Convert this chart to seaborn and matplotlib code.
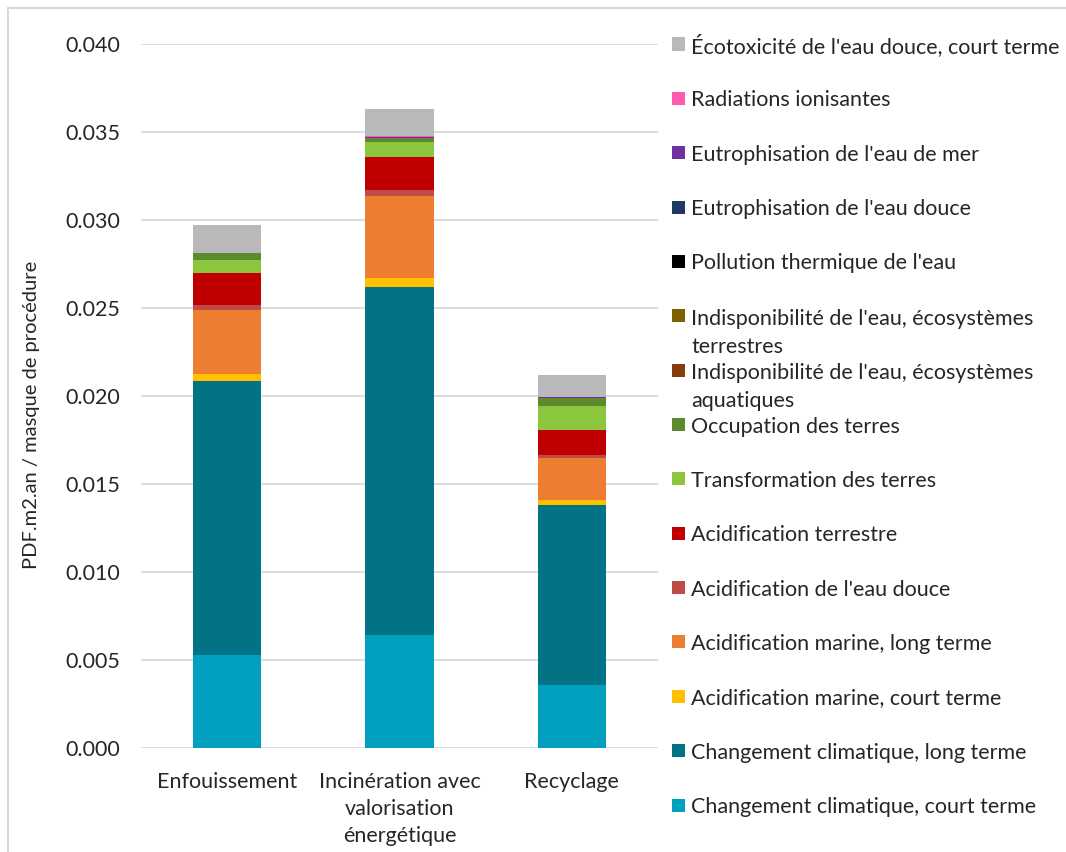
import matplotlib
matplotlib.use("Agg")
import matplotlib.pyplot as plt
import matplotlib.patches as mpatches
import numpy as np
import seaborn as sns

# ---------------- data ----------------
categories = ["Enfouissement", "Incinération avec\nvalorisation\nénergétique", "Recyclage"]

cc_court = [0.00528, 0.00644, 0.00356]
cc_long = [0.01553, 0.01974, 0.01021]
am_court = [0.00041, 0.00052, 0.00030]
am_long = [0.00363, 0.00466, 0.00241]
acid_douce = [0.00028, 0.00031, 0.00017]
acid_terr = [0.00186, 0.00189, 0.00140]
transfo = [0.00074, 0.00085, 0.00138]
occupation = [0.00036, 0.00023, 0.00042]
indispo_aq = [0.000005, 0.000005, 0.000005]
indispo_terr = [0.000005, 0.000005, 0.000005]
pollution = [0.0, 0.0, 0.0]
eutro_douce = [0.000005, 0.000005, 0.000005]
eutro_mer = [0.00002, 0.00006, 0.00005]
radiations = [0.000005, 0.000005, 0.000005]
ecotox = [0.00155, 0.00157, 0.00128]

series_labels = [
    "Changement climatique, court terme",
    "Changement climatique, long terme",
    "Acidification marine, court terme",
    "Acidification marine, long terme",
    "Acidification de l'eau douce",
    "Acidification terrestre",
    "Transformation des terres",
    "Occupation des terres",
    "Indisponibilité de l'eau, écosystèmes\naquatiques",
    "Indisponibilité de l'eau, écosystèmes\nterrestres",
    "Pollution thermique de l'eau",
    "Eutrophisation de l'eau douce",
    "Eutrophisation de l'eau de mer",
    "Radiations ionisantes",
    "Écotoxicité de l'eau douce, court terme",
]
series_values = [cc_court, cc_long, am_court, am_long, acid_douce, acid_terr,
                 transfo, occupation, indispo_aq, indispo_terr, pollution,
                 eutro_douce, eutro_mer, radiations, ecotox]
series_colors = ["#00A0BE", "#027385", "#FFC000", "#ED7D31", "#BE4B48", "#C00000",
                 "#8CC63F", "#5E8A2E", "#843C0C", "#7F6000", "#000000",
                 "#203864", "#7030A0", "#FF5BB0", "#B9B9B9"]

y_ticks = [0.000, 0.005, 0.010, 0.015, 0.020, 0.025, 0.030, 0.035, 0.040]
y_label = "PDF.m2.an / masque de procédure"

# ---------------- style ----------------
sns.set_theme(style="white")
plt.rcParams["font.family"] = ["Lato", "DejaVu Sans"]
text_color = "#262626"

W, H = 1066, 852
fig = plt.figure(figsize=(W / 100, H / 100), dpi=100)

# axes placement (pixels)
ax_l, ax_r, ax_t, ax_b = 141, 658, 43.5, 748
ax = fig.add_axes([ax_l / W, 1 - ax_b / H, (ax_r - ax_l) / W, (ax_b - ax_t) / H])

# stacked bars: draw cumulative totals from the top down
cum = np.cumsum(np.array(series_values), axis=0)
for i in range(len(series_values) - 1, -1, -1):
    sns.barplot(x=categories, y=cum[i], color=series_colors[i], width=0.395,
                saturation=1, ax=ax, linewidth=0, zorder=3)

ax.set_ylim(0, 0.040)
ax.set_xlim(-0.5, 2.5)
ax.set_yticks(y_ticks)
ax.set_yticklabels([f"{v:.3f}" for v in y_ticks])
ax.yaxis.grid(True, color="#D9D9D9", linewidth=1.3, zorder=0)
ax.xaxis.grid(False)
ax.set_axisbelow(True)
for s in ax.spines.values():
    s.set_visible(False)
ax.tick_params(axis="y", length=0, pad=15, labelsize=15.5, labelcolor=text_color)
ax.tick_params(axis="x", length=0, pad=17, labelsize=15.5, labelcolor=text_color)
for lab in ax.get_xticklabels():
    lab.set_linespacing(1.45)
    lab.set_verticalalignment("top")
ax.set_xlabel("")
ax.set_ylabel(y_label, fontsize=14.5, color=text_color)
ax.yaxis.set_label_coords((40 - ax_l) / (ax_r - ax_l), (ax_b - 415) / (ax_b - ax_t))

# manual legend (Excel style, reversed order, fixed pitch)
legend_order = list(range(len(series_labels) - 1, -1, -1))
y0, pitch, wrap_shift = 44, 54.36, 11
for k, idx in enumerate(legend_order):
    yc = y0 + pitch * k
    fig.patches.append(mpatches.Rectangle(((672) / W, 1 - (yc + 6.5) / H), 13 / W, 13 / H,
                                          transform=fig.transFigure, facecolor=series_colors[idx],
                                          edgecolor="none"))
    n_extra = series_labels[idx].count("\n")
    fig.text(691 / W, 1 - (yc + n_extra * wrap_shift) / H, series_labels[idx], fontsize=15.5,
             color=text_color, ha="left", va="center_baseline", linespacing=1.5)

# outer chart frame
fig.patches.append(mpatches.Rectangle((8 / W, -0.1), 1.2, 1.1 - 8 / H, transform=fig.transFigure,
                                      fill=False, edgecolor="#D9D9D9", linewidth=1.5))

fig.savefig("out.png", dpi=100)
